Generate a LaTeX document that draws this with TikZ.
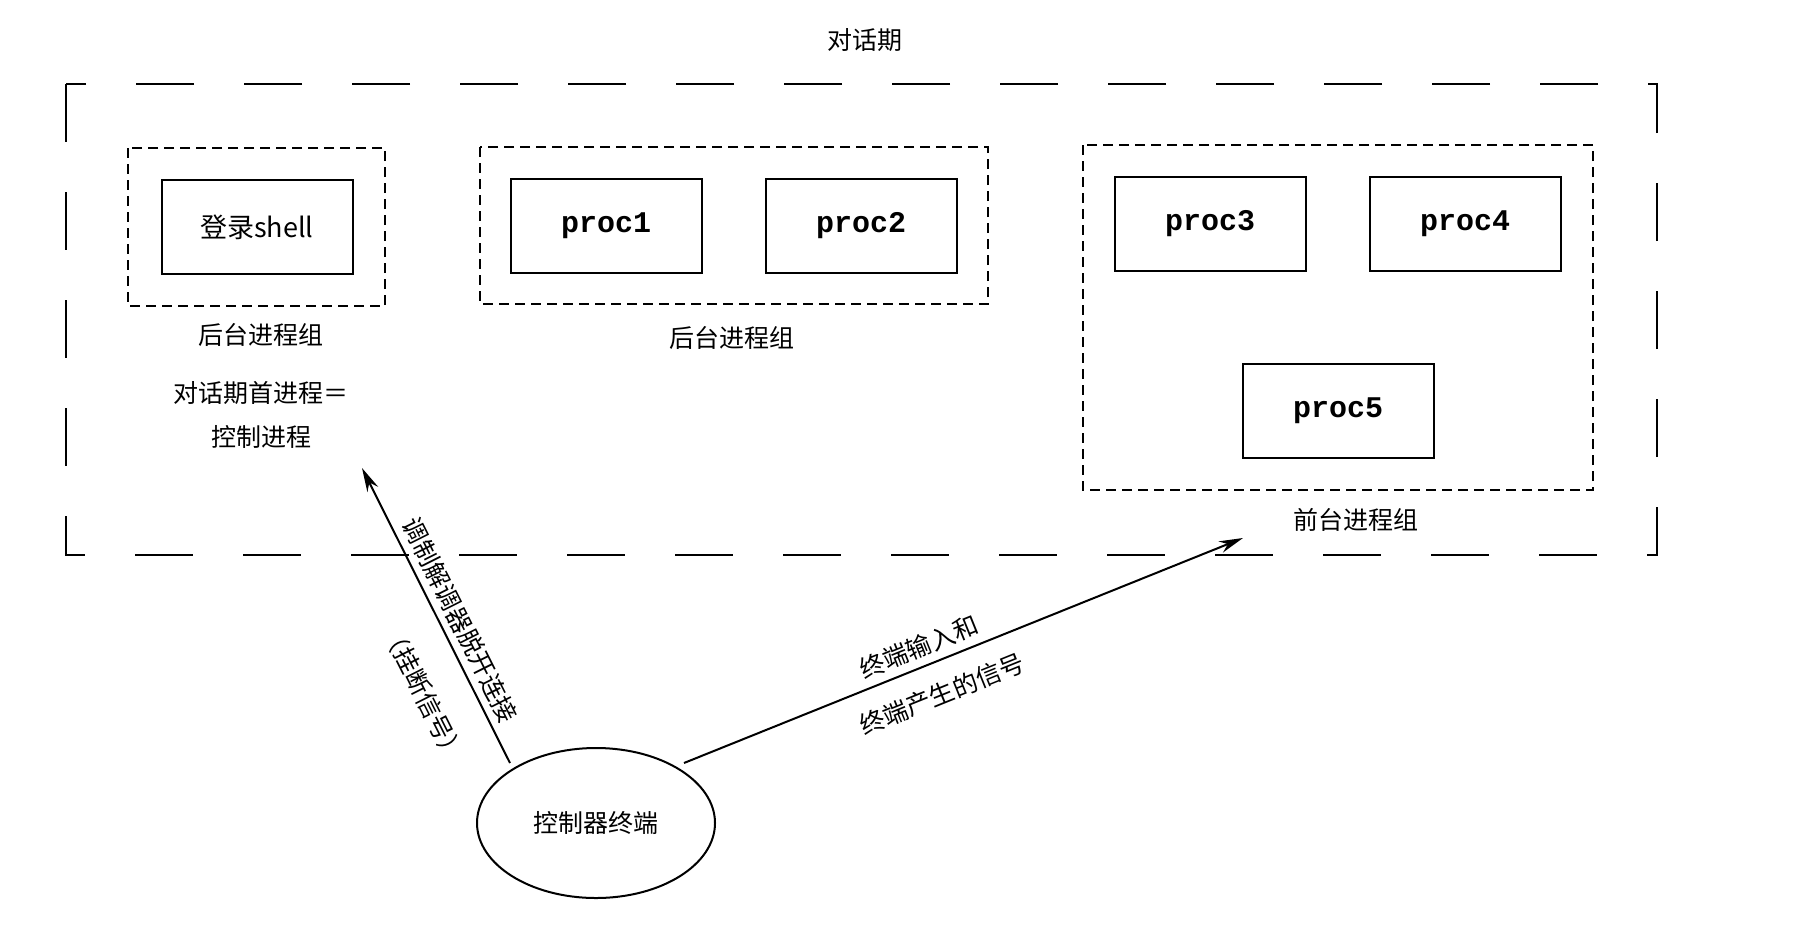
\documentclass[tikz,border=0pt]{standalone}
\usepackage{fontspec}
\setmainfont{Noto Sans CJK SC}
\newfontfamily\monob{Liberation Mono}
\usetikzlibrary{arrows.meta,shapes.geometric}
\begin{document}
\begin{tikzpicture}[x=1pt,y=-1pt,
  txt/.style={font=\fontsize{25}{30}\selectfont},
  grp/.style={draw,line width=2pt,dash pattern=on 10pt off 6pt},
  pbox/.style={draw,line width=2pt,minimum width=191pt,minimum height=94pt,font=\monob\bfseries\fontsize{30}{32}\selectfont},
  arr/.style={line width=2pt,-{Stealth[length=24pt,width=12pt]}}]
\useasboundingbox (0,0) rectangle (1803,924);
\node[txt] (title) at (865,40) {对话期};
\draw[line width=2.2pt,dash pattern=on 58pt off 50pt] (66,84) rectangle (1657,555);
\draw[grp] (128,148) rectangle (385,306);
\draw[grp] (480,147) rectangle (988,304);
\draw[grp] (1083,145) rectangle (1593,490);
\node[pbox,font=\fontsize{27}{30}\selectfont] (login) at (257,227) {登录shell};
\node[pbox] (p1) at (606,226) {proc1};
\node[pbox] (p2) at (861,226) {proc2};
\node[pbox] (p3) at (1210,224) {proc3};
\node[pbox] (p4) at (1465,224) {proc4};
\node[pbox] (p5) at (1338,411) {proc5};
\node[txt] (l1) at (261,335) {后台进程组};
\node[txt] (l2) at (732,338) {后台进程组};
\node[txt] (l3) at (1356,520) {前台进程组};
\node[txt] (leader) at (261,393) {对话期首进程＝};
\node[txt] (leader2) at (261,437) {控制进程};
\node[draw,ellipse,line width=2pt,minimum width=238pt,minimum height=150pt,txt] (term) at (596,823) {控制器终端};
\coordinate (a1) at (362,468);
\coordinate (a2) at (1243,538);
\draw[arr] (510,763) -- (a1);
\draw[arr] (684,763) -- (a2);
\node[txt,rotate=-63.3] (t1) at (460,620) {调制解调器脱开连接};
\node[txt,rotate=-63.3] (t2) at (424,694) {（挂断信号）};
\node[txt,rotate=22] (t3) at (919,647) {终端输入和};
\node[txt,rotate=22] (t4) at (942,694) {终端产生的信号};
\end{tikzpicture}
\end{document}
